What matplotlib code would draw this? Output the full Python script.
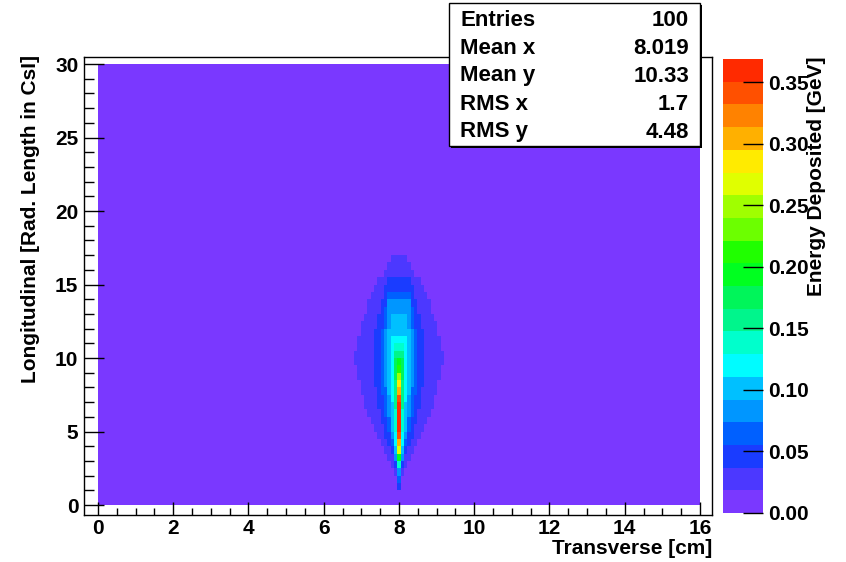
import matplotlib
matplotlib.use("Agg")
import matplotlib.pyplot as plt
import numpy as np
from matplotlib.colors import ListedColormap, BoundaryNorm
from matplotlib.patches import Rectangle

plt.rcParams["font.family"] = ["Liberation Sans", "DejaVu Sans"]
plt.rcParams["font.weight"] = "bold"

# TH2 binning
x_range = (0.0, 16.0)
y_range = (0.0, 30.0)
n_xbins = 181
n_ybins = 60
shower_x = 8.0
background = 0.004   # every bin has a tiny deposit -> lowest colour
z_max = 0.369

# one value per 0.5 X0 row (centres 0.25, 0.75, ... 17.75)
axis_energy = [0.006, 0.012, 0.04, 0.07, 0.09, 0.14, 0.19, 0.27, 0.31, 0.34,
               0.355, 0.362, 0.366, 0.369, 0.35, 0.31, 0.28, 0.25, 0.22, 0.19,
               0.165, 0.14, 0.12, 0.11, 0.103, 0.095, 0.085, 0.075, 0.06, 0.048,
               0.04, 0.034, 0.03, 0.025, 0.008, 0.004]
halo_halfwidth = [0.0, 0.0, 0.03, 0.06, 0.12, 0.20, 0.28, 0.40, 0.50, 0.60,
                  0.68, 0.77, 0.85, 0.91, 0.97, 1.02, 1.06, 1.10, 1.12, 1.15,
                  1.15, 1.12, 1.09, 1.04, 0.99, 0.93, 0.87, 0.80, 0.72, 0.63,
                  0.54, 0.44, 0.34, 0.20, 0.0, 0.0]

# transverse profile read across the widest row (y ~ 10), halo edge at 1.15 cm
profile_dx = [0.09, 0.13, 0.20, 0.29, 0.37, 0.48, 0.64, 0.90, 1.15]
profile_energy = [0.17, 0.135, 0.115, 0.095, 0.078, 0.058, 0.04, 0.026, 0.019]

stats_names = ["Entries", "Mean x", "Mean y", "RMS x", "RMS y"]
stats_values = ["100", "8.019", "10.33", "1.7", "4.48"]

palette = ["#7a38ff", "#4c38ff", "#1a3cff", "#0060ff", "#0096ff",
           "#00c0ff", "#00fcff", "#00ffcc", "#00f58c", "#00f55a",
           "#00ff20", "#20ff00", "#6cff00", "#a0ff00", "#e0ff00",
           "#ffeb00", "#ffb000", "#ff8200", "#ff5000", "#ff2a00"]

# histogram contents
xedges = np.linspace(*x_range, n_xbins + 1)
yedges = np.linspace(*y_range, n_ybins + 1)
xc = 0.5 * (xedges[:-1] + xedges[1:])
dx = np.abs(xc - shower_x)
Z = np.full((n_ybins, n_xbins), background)
ref_hw = profile_dx[-1]
for row, (c, hw) in enumerate(zip(axis_energy, halo_halfwidth)):
    if hw > 0:
        scaled = dx * ref_hw / hw
        halo = np.interp(scaled, profile_dx, profile_energy)
        inside = scaled <= ref_hw
        Z[row, inside] = np.maximum(np.minimum(c, halo[inside]), background)
    Z[row, dx < 1e-6] = max(c, background)

ncont = len(palette)
cmap = ListedColormap(palette)
levels = np.linspace(0, z_max, ncont + 1)
norm = BoundaryNorm(levels, ncont)

W, H = 846, 562
fig = plt.figure(figsize=(W / 100, H / 100), dpi=100)
ax = fig.add_axes([84 / W, 1 - 515 / H, (712 - 84) / W, (515 - 57) / H])
mesh = ax.pcolormesh(xedges, yedges, Z, cmap=cmap, norm=norm,
                     shading="flat", antialiased=False, edgecolors="none")
ax.set_xlim(-0.372, 16.32)
ax.set_ylim(-0.68, 30.48)

ax.set_xticks(np.arange(0, 17, 2))
ax.set_xticks(np.arange(0, 16.01, 0.5), minor=True)
ax.set_yticks(np.arange(0, 31, 5))
ax.set_yticks(np.arange(0, 31, 1), minor=True)
ax.tick_params(axis="x", which="major", direction="in", length=9.5, width=1,
               labelsize=15, pad=3, top=False)
ax.tick_params(axis="x", which="minor", direction="in", length=5, width=1, top=False)
ax.tick_params(axis="y", which="major", direction="in", length=14.5, width=1,
               labelsize=15, pad=4, right=False)
ax.tick_params(axis="y", which="minor", direction="in", length=7, width=1, right=False)
for sp in ax.spines.values():
    sp.set_linewidth(1.0)

fig.text(712 / W, 1 - 548 / H, "Transverse [cm]", ha="right", va="center", fontsize=15)
fig.text(30 / W, 1 - 55 / H, "Longitudinal [Rad. Length in CsI]", rotation=90,
         ha="center", va="top", fontsize=15)

# palette axis
cax = fig.add_axes([723 / W, 1 - 513 / H, 40 / W, 454 / H])
cbar = fig.colorbar(mesh, cax=cax, ticks=np.arange(0, 0.351, 0.05))
cbar.outline.set_visible(False)
cbar.ax.set_yticklabels([f"{t:.2f}" for t in np.arange(0, 0.351, 0.05)])
cax.tick_params(axis="y", which="major", direction="in", length=14.5, width=1,
                labelsize=15, pad=4, right=True, left=False)
cax.minorticks_off()
fig.text(816 / W, 1 - 57 / H, "Energy Deposited [GeV]", rotation=90,
         ha="center", va="top", fontsize=15)

# stats box
bx0, by0, bx1, by1 = 449, 3, 700, 146
fig.patches.append(Rectangle(((bx0 + 2) / W, 1 - (by1 + 2) / H), (bx1 - bx0) / W,
                             (by1 - by0) / H, transform=fig.transFigure,
                             facecolor="black", edgecolor="none", zorder=5))
fig.patches.append(Rectangle((bx0 / W, 1 - by1 / H), (bx1 - bx0) / W,
                             (by1 - by0) / H, transform=fig.transFigure,
                             facecolor="white", edgecolor="black", lw=1, zorder=6))
row_y = [20, 48, 76, 105, 132]
for name, val, yy in zip(stats_names, stats_values, row_y):
    fig.text(460 / W, 1 - yy / H, name, ha="left", va="center", fontsize=16, zorder=7)
    fig.text(689 / W, 1 - yy / H, val, ha="right", va="center", fontsize=16, zorder=7)

fig.savefig("out.png", dpi=100)
